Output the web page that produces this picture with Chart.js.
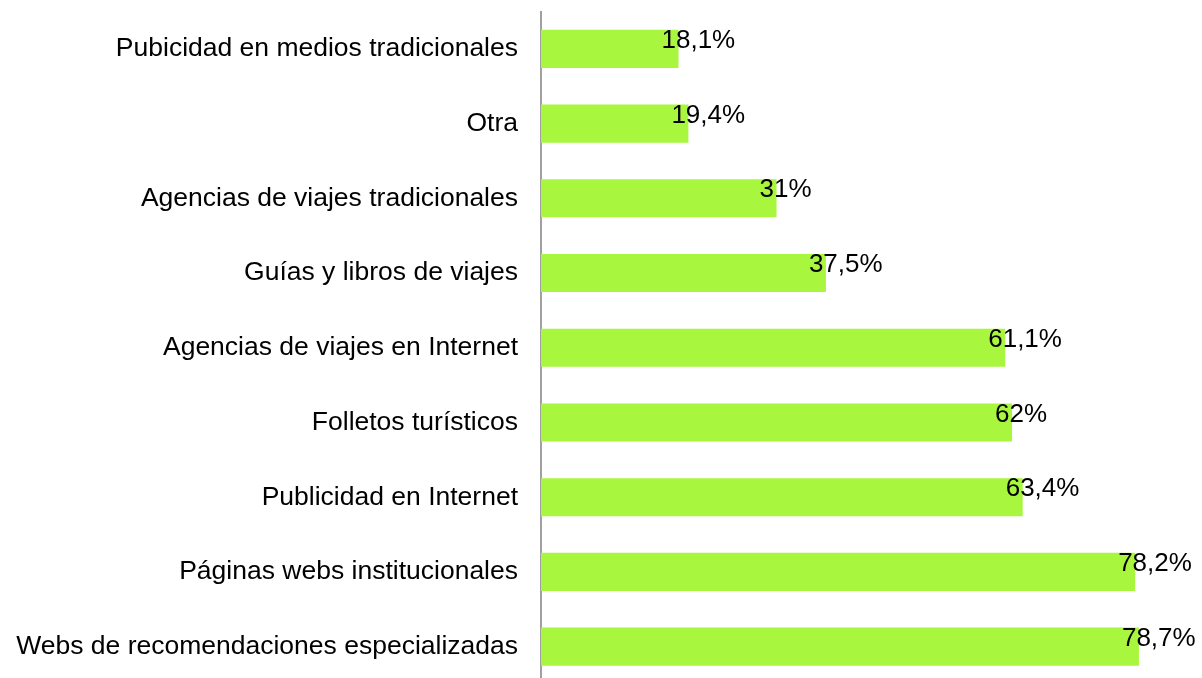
<!DOCTYPE html>
<html>
<head>
<meta charset="utf-8">
<script src="https://cdn.jsdelivr.net/npm/chart.js@4/dist/chart.umd.min.js"></script>
<style>
  html, body { margin: 0; padding: 0; background: #fff; overflow: hidden; }
  #wrap { position: relative; width: 1202px; height: 684px; }
</style>
</head>
<body>
<div id="wrap"><canvas id="chart-fuentes"></canvas></div>
<script>
// ─── Data ─────────────────────────────────────────────
const CATEGORIES = [
  'Pubicidad en medios tradicionales',
  'Otra',
  'Agencias de viajes tradicionales',
  'Guías y libros de viajes',
  'Agencias de viajes en Internet',
  'Folletos turísticos',
  'Publicidad en Internet',
  'Páginas webs institucionales',
  'Webs de recomendaciones especializadas'
];
const VALUES = [18.1, 19.4, 31, 37.5, 61.1, 62, 63.4, 78.2, 78.7];

const BAR_COLOR = '#a8f63e';
const FONT = "'Liberation Sans', Arial, sans-serif";

const fmt = v => String(v).replace('.', ',') + '%';

// value labels next to each bar end
const valueLabels = {
  id: 'valueLabels',
  afterDatasetsDraw(chart) {
    const ctx = chart.ctx;
    const meta = chart.getDatasetMeta(0);
    ctx.save();
    ctx.font = '26px ' + FONT;
    ctx.fillStyle = '#000';
    ctx.textAlign = 'left';
    ctx.textBaseline = 'middle';
    meta.data.forEach((bar, i) => {
      ctx.fillText(fmt(VALUES[i]), bar.x - 17, bar.y - 8);
    });
    ctx.restore();
  }
};

new Chart(document.getElementById('chart-fuentes'), {
  type: 'bar',
  data: {
    labels: CATEGORIES,
    datasets: [{
      data: VALUES,
      backgroundColor: BAR_COLOR,
      borderWidth: 0,
      categoryPercentage: 1,
      barPercentage: 0.51
    }]
  },
  options: {
    indexAxis: 'y',
    responsive: true,
    maintainAspectRatio: false,
    animation: false,
    layout: { padding: { top: 11.5, right: 0, bottom: 0, left: 0 } },
    plugins: { legend: { display: false }, tooltip: { enabled: false } },
    scales: {
      x: { display: false, min: 0, max: 87 },
      y: {
        z: 1,
        afterFit: s => { s.width = 541; s.paddingTop = 0; s.paddingBottom = 0; },
        grid: { display: false, drawTicks: false },
        border: { display: true, color: '#a0a0a0', width: 2 },
        ticks: { color: '#000', padding: 23, font: { family: FONT, size: 26.5 } }
      }
    }
  },
  plugins: [valueLabels]
});
</script>
</body>
</html>
